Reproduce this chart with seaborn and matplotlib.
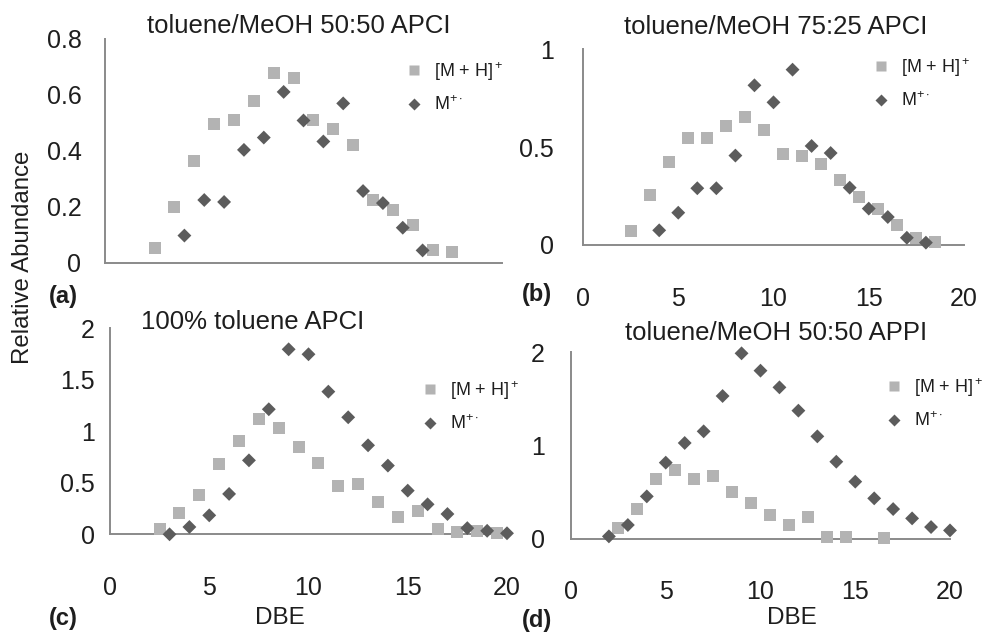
import pandas as pd
import matplotlib
matplotlib.use("Agg")
import matplotlib.pyplot as plt
from matplotlib.lines import Line2D
import seaborn as sns

# panel (a) toluene/MeOH 50:50 APCI
a_mh_dbe = [2.5, 3.5, 4.5, 5.5, 6.5, 7.5, 8.5, 9.5, 10.5, 11.5, 12.5, 13.5, 14.5, 15.5, 16.5, 17.5]
a_mh = [0.054, 0.20, 0.365, 0.495, 0.51, 0.58, 0.68, 0.66, 0.51, 0.48, 0.42, 0.225, 0.19, 0.135, 0.046, 0.038]
a_m_dbe = [4, 5, 6, 7, 8, 9, 10, 11, 12, 13, 14, 15, 16]
a_m = [0.098, 0.225, 0.218, 0.404, 0.448, 0.611, 0.509, 0.434, 0.57, 0.257, 0.214, 0.126, 0.045]

# panel (b) toluene/MeOH 75:25 APCI
b_mh_dbe = [2.5, 3.5, 4.5, 5.5, 6.5, 7.5, 8.5, 9.5, 10.5, 11.5, 12.5, 13.5, 14.5, 15.5, 16.5, 17.5, 18.5]
b_mh = [0.072, 0.254, 0.426, 0.545, 0.545, 0.61, 0.652, 0.589, 0.467, 0.455, 0.412, 0.332, 0.247, 0.182, 0.104, 0.036, 0.014]
b_m_dbe = [4, 5, 6, 7, 8, 9, 10, 11, 12, 13, 14, 15, 16, 17, 18]
b_m = [0.075, 0.165, 0.29, 0.29, 0.457, 0.816, 0.729, 0.896, 0.506, 0.47, 0.293, 0.186, 0.143, 0.037, 0.012]

# panel (c) 100% toluene APCI
c_mh_dbe = [2.5, 3.5, 4.5, 5.5, 6.5, 7.5, 8.5, 9.5, 10.5, 11.5, 12.5, 13.5, 14.5, 15.5, 16.5, 17.5, 18.5, 19.5]
c_mh = [0.052, 0.204, 0.382, 0.686, 0.906, 1.123, 1.032, 0.845, 0.696, 0.472, 0.489, 0.314, 0.168, 0.223, 0.052, 0.026, 0.03, 0.015]
c_m_dbe = [3, 4, 5, 6, 7, 8, 9, 10, 11, 12, 13, 14, 15, 16, 17, 18, 19, 20]
c_m = [0.0, 0.071, 0.184, 0.392, 0.718, 1.214, 1.796, 1.748, 1.385, 1.136, 0.864, 0.667, 0.424, 0.291, 0.197, 0.06, 0.034, 0.01]

# panel (d) toluene/MeOH 50:50 APPI
d_mh_dbe = [2.5, 3.5, 4.5, 5.5, 6.5, 7.5, 8.5, 9.5, 10.5, 11.5, 12.5, 13.5, 14.5, 16.5]
d_mh = [0.111, 0.322, 0.644, 0.733, 0.644, 0.676, 0.504, 0.383, 0.258, 0.147, 0.233, 0.021, 0.021, 0.003]
d_m_dbe = [2, 3, 4, 5, 6, 7, 8, 9, 10, 11, 12, 13, 14, 15, 16, 17, 18, 19, 20]
d_m = [0.025, 0.147, 0.454, 0.816, 1.027, 1.152, 1.531, 1.989, 1.803, 1.624, 1.374, 1.098, 0.826, 0.612, 0.433, 0.318, 0.218, 0.125, 0.089]

titles = ["toluene/MeOH 50:50 APCI", "toluene/MeOH 75:25 APCI",
          "100% toluene APCI", "toluene/MeOH 50:50 APPI"]
panel_tags = ["(a)", "(b)", "(c)", "(d)"]
y_ticks = [[0, 0.2, 0.4, 0.6, 0.8], [0, 0.5, 1], [0, 0.5, 1, 1.5, 2], [0, 1, 2]]
y_tick_labels = [["0", "0.2", "0.4", "0.6", "0.8"], ["0", "0.5", "1"],
                 ["0", "0.5", "1", "1.5", "2"], ["0", "1", "2"]]
x_ticks_full = [0, 5, 10, 15, 20]
x_ticks_a = [0, 10, 20]

MH = r"[M + H]$^+$"
M = r"M$^{+\cdot}$"

sns.set_style("white")
plt.rcParams["font.family"] = ["Liberation Sans", "DejaVu Sans"]
plt.rcParams["mathtext.fontset"] = "custom"
plt.rcParams["mathtext.rm"] = "Liberation Sans"
plt.rcParams["mathtext.it"] = "Liberation Sans:italic"
plt.rcParams["mathtext.bf"] = "Liberation Sans:bold"

TEXT = "#1e1e1e"
AXIS = "#8a8a8a"
LIGHT = "#b3b3b3"
DARK = "#5c5c5c"


def draw_panel(fig, rect, mh_x, mh_y, m_x, m_y, yticks, ylabels, xticks,
               show_xlabels, title, title_xy, tag, tag_xy, leg_xy, xpad, ypad):
    ax = fig.add_axes(rect)
    df = pd.concat([
        pd.DataFrame({"DBE": mh_x, "abundance": mh_y, "ion": MH}),
        pd.DataFrame({"DBE": m_x, "abundance": m_y, "ion": M}),
    ])
    sns.scatterplot(data=df, x="DBE", y="abundance", hue="ion", style="ion",
                    size="ion", sizes={MH: 75, M: 50},
                    markers={MH: "s", M: "D"}, palette={MH: LIGHT, M: DARK},
                    linewidth=0, legend=False, clip_on=False, ax=ax, zorder=3)
    ax.set_xlim(0, 20)
    ax.set_ylim(0, yticks[-1])
    ax.set_xticks(xticks)
    ax.set_yticks(yticks)
    ax.set_yticklabels(ylabels)
    if not show_xlabels:
        ax.set_xticklabels([])
    ax.set_xlabel("")
    ax.set_ylabel("")
    for side in ["top", "right"]:
        ax.spines[side].set_visible(False)
    for side in ["left", "bottom"]:
        ax.spines[side].set_color(AXIS)
        ax.spines[side].set_linewidth(1.4)
    ax.tick_params(axis="both", colors=AXIS, labelcolor=TEXT, labelsize=18,
                   width=1.4, direction="out")
    ax.tick_params(axis="x", length=6, pad=xpad)
    ax.tick_params(axis="y", length=7, pad=ypad)
    ax.set_facecolor("none")

    fig.text(title_xy[0] / 984, 1 - title_xy[1] / 634, title, ha="center",
             va="center", fontsize=18.5, color=TEXT)
    fig.text(tag_xy[0] / 984, 1 - tag_xy[1] / 634, tag, ha="center",
             va="center", fontsize=17, fontweight="bold", color=TEXT)

    handles = [Line2D([], [], ls="", marker="s", ms=7.5, mfc=LIGHT, mec="none"),
               Line2D([], [], ls="", marker="D", ms=6, mfc=DARK, mec="none")]
    fig.legend(handles, [MH, M], loc="upper left",
               bbox_to_anchor=(leg_xy[0] / 984, 1 - leg_xy[1] / 634),
               frameon=False, fontsize=13, handlelength=0.8,
               handletextpad=0.7, labelspacing=0.7, borderpad=0,
               borderaxespad=0, labelcolor=TEXT)
    return ax


fig = plt.figure(figsize=(9.84, 6.34), dpi=100)

draw_panel(fig, [105 / 984, 1 - 263 / 634, 397 / 984, 224 / 634],
           a_mh_dbe, a_mh, a_m_dbe, a_m, y_ticks[0], y_tick_labels[0],
           x_ticks_a, False, titles[0], (299, 26), panel_tags[0], (63, 296),
           (407, 60), 30, 10)
draw_panel(fig, [583 / 984, 1 - 245 / 634, 381 / 984, 195.7 / 634],
           b_mh_dbe, b_mh, b_m_dbe, b_m, y_ticks[1], y_tick_labels[1],
           x_ticks_full, True, titles[1], (776, 27), panel_tags[1], (537, 294),
           (874, 56), 24, 14)
draw_panel(fig, [110 / 984, 1 - 534.3 / 634, 397 / 984, 206 / 634],
           c_mh_dbe, c_mh, c_m_dbe, c_m, y_ticks[2], y_tick_labels[2],
           x_ticks_full, True, titles[2], (253, 322), panel_tags[2], (63, 618),
           (423, 379), 24, 4)
draw_panel(fig, [571 / 984, 1 - 538.7 / 634, 379 / 984, 186.4 / 634],
           d_mh_dbe, d_mh, d_m_dbe, d_m, y_ticks[3], y_tick_labels[3],
           x_ticks_full, True, titles[3], (776, 333), panel_tags[3], (537, 621),
           (887, 376), 24, 12)

fig.text(280 / 984, 1 - 618 / 634, "DBE", ha="center", va="center",
         fontsize=17.5, color=TEXT)
fig.text(792 / 984, 1 - 618 / 634, "DBE", ha="center", va="center",
         fontsize=17.5, color=TEXT)
fig.text(23 / 984, 1 - 257 / 634, "Relative Abundance", ha="center",
         va="center", rotation=90, fontsize=17.3, color=TEXT)

fig.savefig("out.png", dpi=100, facecolor="white")
